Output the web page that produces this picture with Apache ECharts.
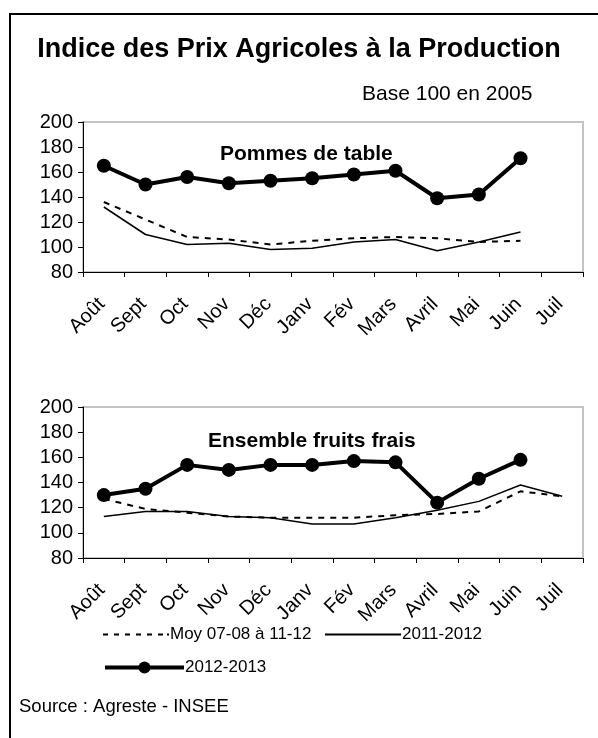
<!DOCTYPE html>
<html>
<head>
<meta charset="utf-8">
<title>Indice des Prix Agricoles à la Production</title>
<script src="https://cdn.jsdelivr.net/npm/echarts@6/dist/echarts.min.js"></script>
<style>
html, body { margin: 0; padding: 0; background: #fff; }
#chart { width: 598px; height: 738px; }
</style>
</head>
<body>
<div id="chart"></div>
<script>
// mois de la campagne (août -> juillet)
var mois = ['Août', 'Sept', 'Oct', 'Nov', 'Déc', 'Janv', 'Fév', 'Mars', 'Avril', 'Mai', 'Juin', 'Juil']
var yMin = 80, yMax = 200, yPas = 20

// Pommes de table
var pommesMoy  = [136, 122, 108, 106, 102, 105, 107, 108, 107, 104, 105]
var pommes1112 = [132, 110, 102, 103, 98, 99, 104, 106, 97, 104, 112]
var pommes1213 = [165, 150, 156, 151, 153, 155, 158, 161, 139, 142, 171]

// Ensemble fruits frais
var fruitsMoy  = [127, 119, 116, 113, 112, 112, 112, 114, 115, 117, 133, 129]
var fruits1112 = [113, 117, 117, 113, 112, 107, 107, 112, 118, 125, 138, 129]
var fruits1213 = [130, 135, 154, 150, 154, 154, 157, 156, 124, 143, 158]

var nomMoy = 'Moy 07-08 à 11-12'
	,nom1112 = '2011-2012'
	,nom1213 = '2012-2013'

var police = "'Liberation Sans', Arial, sans-serif"

var chart = echarts.init(document.getElementById('chart'), null, { renderer: 'canvas' })

function axeX(idx) {
	return {
		type: 'category',
		gridIndex: idx,
		data: mois,
		boundaryGap: true,
		axisLine: { lineStyle: { color: '#000', width: 1 } },
		axisTick: { show: true, interval: 0, inside: false, length: 5, lineStyle: { color: '#000' } },
		axisLabel: {
			interval: 0,
			rotate: 45,
			margin: 27,
			padding: [0, 3, 0, 0],
			color: '#000',
			fontFamily: police,
			fontSize: 20
		},
		splitLine: { show: false }
	}
}

function axeY(idx) {
	return {
		type: 'value',
		gridIndex: idx,
		min: yMin,
		max: yMax,
		interval: yPas,
		axisLine: { show: true, lineStyle: { color: '#000', width: 1 } },
		axisTick: { show: true, inside: false, length: 5, lineStyle: { color: '#000' } },
		axisLabel: { color: '#000', fontFamily: police, fontSize: 20, margin: 10 },
		splitLine: { show: false }
	}
}

function serieMoy(idx, data) {
	return {
		name: nomMoy, type: 'line', xAxisIndex: idx, yAxisIndex: idx,
		data: data, symbol: 'none', z: 2,
		lineStyle: { color: '#000', width: 2, type: [6, 6] },
		itemStyle: { color: '#000' }
	}
}
function serie1112(idx, data) {
	return {
		name: nom1112, type: 'line', xAxisIndex: idx, yAxisIndex: idx,
		data: data, symbol: 'none', z: 3,
		lineStyle: { color: '#000', width: 1.5 },
		itemStyle: { color: '#000' }
	}
}
function serie1213(idx, data) {
	return {
		name: nom1213, type: 'line', xAxisIndex: idx, yAxisIndex: idx,
		data: data, symbol: 'circle', symbolSize: 14, z: 4,
		lineStyle: { color: '#000', width: 4 },
		itemStyle: { color: '#000' }
	}
}

var texteLegende = { fontFamily: police, fontSize: 17, color: '#000', padding: [0, 0, 0, -4] }

var option = {
	animation: false,
	backgroundColor: '#fff',
	textStyle: { fontFamily: police, color: '#000' },
	title: [
		{ text: 'Indice des Prix Agricoles à la Production', left: 'center', top: 31,
			textStyle: { fontFamily: police, fontSize: 27, fontWeight: 'bold', color: '#000' } },
		{ text: 'Base 100 en 2005', left: 357, top: 79,
			textStyle: { fontFamily: police, fontSize: 21, fontWeight: 'normal', color: '#000' } },
		{ text: 'Pommes de table', left: 215, top: 139,
			textStyle: { fontFamily: police, fontSize: 21, fontWeight: 'bold', color: '#000' } },
		{ text: 'Ensemble fruits frais', left: 203, top: 426,
			textStyle: { fontFamily: police, fontSize: 21, fontWeight: 'bold', color: '#000' } },
		{ text: 'Source : Agreste - INSEE', left: 14, top: 692,
			textStyle: { fontFamily: police, fontSize: 18.5, fontWeight: 'normal', color: '#000' } }
	],
	legend: [
		{
			data: [{ name: nomMoy, icon: 'path://M0 0H5V2H0Z M11 0H16V2H11Z M22 0H27V2H22Z M33 0H38V2H33Z M44 0H49V2H44Z M55 0H60V2H55Z M64 0H66V2H64Z' }],
			left: 98, top: 621, itemWidth: 66, itemHeight: 2, symbolKeepAspect: false,
			itemStyle: { color: '#000' }, textStyle: texteLegende
		},
		{
			data: [{ name: nom1112, icon: 'rect' }],
			left: 320, top: 621, itemWidth: 76, itemHeight: 2, symbolKeepAspect: false,
			itemStyle: { color: '#000' }, textStyle: texteLegende
		},
		{
			data: [nom1213],
			left: 98, top: 654, itemWidth: 79, itemHeight: 15,
			lineStyle: { width: 4 },
			textStyle: texteLegende
		}
	],
	grid: [
		{ left: 83, top: 122, width: 500, height: 150, show: true, borderColor: '#c4c4c4', borderWidth: 2, backgroundColor: 'transparent' },
		{ left: 83, top: 407, width: 500, height: 151, show: true, borderColor: '#c4c4c4', borderWidth: 2, backgroundColor: 'transparent' }
	],
	xAxis: [axeX(0), axeX(1)],
	yAxis: [axeY(0), axeY(1)],
	series: [
		serieMoy(0, pommesMoy), serie1112(0, pommes1112), serie1213(0, pommes1213),
		serieMoy(1, fruitsMoy), serie1112(1, fruits1112), serie1213(1, fruits1213)
	],
	graphic: [
		{
			type: 'rect', silent: true, z: -1,
			shape: { x: 10, y: 14, width: 700, height: 800 },
			style: { fill: 'none', stroke: '#000', lineWidth: 2 }
		}
	]
}

chart.setOption(option)

window.addEventListener('resize', function() {
	chart.resize()
})
</script>
</body>
</html>
